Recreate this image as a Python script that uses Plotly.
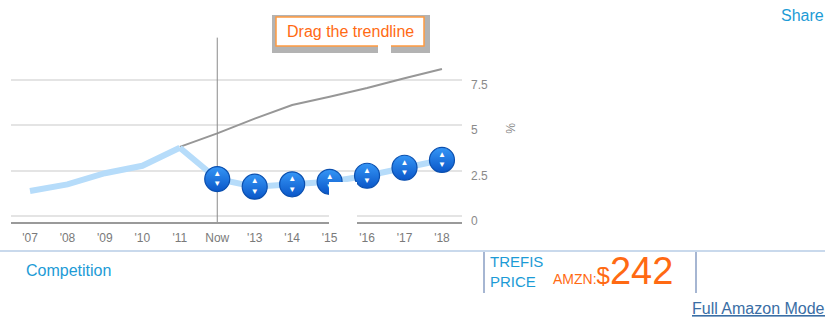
import plotly.graph_objects as go

# ---- data ----
years = ["'07", "'08", "'09", "'10", "'11", "Now", "'13", "'14", "'15", "'16", "'17", "'18"]
hist_labels = ["'07", "'08", "'09", "'10", "'11"]
hist_values = [1.37, 1.74, 2.35, 2.76, 3.75]
fc_labels = ["'11", "Now", "'13", "'14", "'15", "'16", "'17", "'18"]
fc_values = [3.75, 2.03, 1.61, 1.74, 1.88, 2.21, 2.65, 3.08]
trend_labels = ["'11", "Now", "'13", "'14", "'15", "'16", "'17", "'18"]
trend_values = [3.80, 4.54, 5.35, 6.10, 6.55, 7.03, 7.57, 8.08]
ytick_vals = [0, 2.5, 5, 7.5]
ytick_text = ["0", "2.5", "5", "7.5"]

W, H = 825, 317
def px(x):
    return x / W
def py(y):
    return 1 - y / H

idx = {c: i for i, c in enumerate(years)}
hx = [idx[c] for c in hist_labels]
fx = [idx[c] for c in fc_labels]
tx = [idx[c] for c in trend_labels]

FONT = "Liberation Sans, Arial, sans-serif"
BLUE_TXT = "#1c9bd6"
ORANGE = "#ff6a13"

fig = go.Figure()

# trend (gray)
fig.add_trace(go.Scatter(x=tx, y=trend_values, mode="lines",
                         line=dict(color="#979797", width=2), hoverinfo="skip"))
# historical (light blue)
fig.add_trace(go.Scatter(x=hx, y=hist_values, mode="lines",
                         line=dict(color="#b6dcfa", width=6), hoverinfo="skip"))
# forecast line
fig.add_trace(go.Scatter(x=fx, y=fc_values, mode="lines",
                         line=dict(color="#b6dcfa", width=6), hoverinfo="skip"))
# vertical "Now" line
fig.add_trace(go.Scatter(x=[idx["Now"], idx["Now"]], y=[-0.33, 9.8], mode="lines",
                         line=dict(color="#8a8a8a", width=1), hoverinfo="skip"))
# drag handles
fig.add_trace(go.Scatter(x=fx[1:], y=fc_values[1:], mode="markers+text",
                         marker=dict(size=25, color="#3596f6",
                                     gradient=dict(type="vertical", color="#0a56c8"),
                                     line=dict(color="#0b4fae", width=1.2)),
                         text=["▲<br>▼"] * len(fx[1:]),
                         textposition="middle center",
                         textfont=dict(color="white", size=8, family=FONT),
                         hoverinfo="skip"))

shapes = [
    # white artifact box
    dict(type="rect", xref="paper", yref="paper", x0=px(329), x1=px(357), y0=py(225), y1=py(182),
         fillcolor="white", line=dict(width=0), layer="above"),
    # separator horizontal
    dict(type="line", xref="paper", yref="paper", x0=0, x1=1, y0=py(251), y1=py(251),
         line=dict(color="#c9d9ec", width=2)),
    # vertical separators
    dict(type="line", xref="paper", yref="paper", x0=px(484), x1=px(484), y0=py(252), y1=py(293),
         line=dict(color="#a6b6d2", width=2)),
    dict(type="line", xref="paper", yref="paper", x0=px(696), x1=px(696), y0=py(252), y1=py(293),
         line=dict(color="#a6b6d2", width=2)),
    # tooltip box
    dict(type="rect", xref="paper", yref="paper", x0=px(272), x1=px(430), y0=py(53), y1=py(15),
         fillcolor="#b3b3b3", line=dict(width=0), layer="above"),
    dict(type="rect", xref="paper", yref="paper", x0=px(276), x1=px(424), y0=py(46), y1=py(17),
         fillcolor="white", line=dict(color="#ff9a40", width=1.5), layer="above"),
    dict(type="rect", xref="paper", yref="paper", x0=px(378), x1=px(391), y0=py(53), y1=py(45),
         fillcolor="white", line=dict(width=0), layer="above"),
]

annotations = [
    dict(text="Drag the trendline", x=px(350), y=py(31), xref="paper", yref="paper",
         showarrow=False, font=dict(color=ORANGE, size=16, family=FONT),
         xanchor="center", yanchor="middle"),
    dict(text="%", x=px(510), y=py(128), xref="paper", yref="paper", showarrow=False,
         textangle=90, font=dict(color="#888", size=12, family=FONT)),
    dict(text="Share", x=px(779), y=py(15), xref="paper", yref="paper", showarrow=False,
         xanchor="left", yanchor="middle", font=dict(color=BLUE_TXT, size=16, family=FONT)),
    dict(text="Competition", x=px(24), y=py(270), xref="paper", yref="paper", showarrow=False,
         xanchor="left", yanchor="middle", font=dict(color=BLUE_TXT, size=16, family=FONT)),
    dict(text="TREFIS<br>PRICE", x=px(488), y=py(271), xref="paper", yref="paper", showarrow=False,
         xanchor="left", yanchor="middle", align="left",
         font=dict(color=BLUE_TXT, size=15, family=FONT)),
    dict(text="AMZN:<span style='font-size:24px'>$</span><span style='font-size:38px'>242</span>",
         x=px(551), y=py(271), xref="paper", yref="paper", showarrow=False,
         xanchor="left", yanchor="middle", font=dict(color=ORANGE, size=14, family=FONT)),
    dict(text="<span style='text-decoration:underline'>Full Amazon Model</span>",
         x=px(690), y=py(308), xref="paper", yref="paper", showarrow=False,
         xanchor="left", yanchor="middle", font=dict(color="#3a6ea5", size=16, family=FONT)),
]

fig.update_layout(
    width=W, height=H,
    margin=dict(l=0, r=0, t=0, b=0, autoexpand=False),
    paper_bgcolor="white", plot_bgcolor="white",
    showlegend=False,
    font=dict(family=FONT),
    shapes=shapes,
    annotations=annotations,
    xaxis=dict(domain=[px(11), px(462)], range=[-0.507, 11.535], automargin=False,
               tickmode="array", tickvals=list(range(len(years))), ticktext=years,
               showgrid=False, zeroline=False, showline=True, linecolor="#9a9a9a", linewidth=1.5,
               tickfont=dict(color="#7a7a7a", size=12, family=FONT), ticks="", ticklabelstandoff=4),
    yaxis=dict(domain=[py(222), py(30)], range=[-0.33, 10.22], side="right", automargin=False,
               tickmode="array", tickvals=ytick_vals, ticktext=ytick_text,
               showgrid=True, gridcolor="#e4e4e4", gridwidth=1.5, zeroline=False, showline=False,
               tickfont=dict(color="#8a8a8a", size=12, family=FONT), ticks="",
               ticklabelstandoff=8, ticklabelshift=5),
)

fig.write_html("out.html", config={"displayModeBar": False},
               post_script="document.body.style.margin='0';document.body.style.overflow='hidden';")
